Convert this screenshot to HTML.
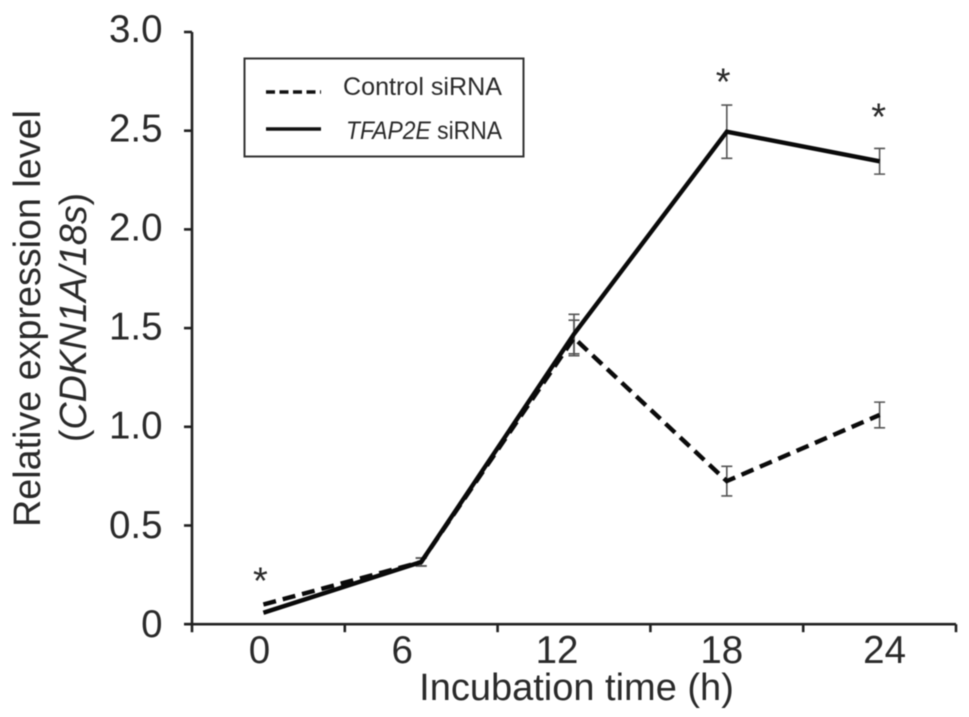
<!DOCTYPE html>
<html>
<head>
<meta charset="utf-8">
<title>CDKN1A expression chart</title>
<style>
html,body{margin:0;padding:0;background:#fff;width:969px;height:717px;overflow:hidden}
svg{display:block;filter:blur(0.6px)}
text{font-family:"Liberation Sans",sans-serif;fill:#2a2a2a}
</style>
</head>
<body>
<svg id="chart" width="969" height="717" viewBox="0 0 969 717" xmlns="http://www.w3.org/2000/svg">
  <rect width="969" height="717" fill="#fff"/>
  <g id="axes"></g>
  <g id="errors"></g>
  <g id="series"></g>
  <g id="stars"></g>
  <text x="576.500" y="700" font-size="38" text-anchor="middle">Incubation time (h)</text>
  <g>
    <text transform="translate(40,318.500) rotate(-90)" font-size="37.700" text-anchor="middle">Relative expression level</text>
    <text transform="translate(86,317.500) rotate(-90)" font-size="37.700" text-anchor="middle">(<tspan font-style="italic">CDKN1A/18s</tspan>)</text>
  </g>
  <g>
    <rect x="244.500" y="58.500" width="279" height="98" fill="#fff" stroke="#333" stroke-width="2"/>
    <line x1="266" x2="321" y1="92" y2="92" stroke="#111" stroke-width="3.500" stroke-dasharray="9 4.500"/>
    <text x="343" y="95" font-size="25" textLength="159" lengthAdjust="spacingAndGlyphs">Control siRNA</text>
    <line x1="266" x2="321" y1="129" y2="129" stroke="#111" stroke-width="3.500"/>
    <text x="346" y="139" font-size="25" textLength="156" lengthAdjust="spacingAndGlyphs"><tspan font-style="italic">TFAP2E</tspan> siRNA</text>
  </g>
</svg>
<script>
var categories = ['0', '6', '12', '18', '24'];
var controlValues = [0.10, 0.315, 1.45, 0.725, 1.06];
var controlErrors = [0, 0.02, 0.09, 0.075, 0.065];
var tfap2eValues = [0.058, 0.315, 1.47, 2.495, 2.345];
var tfap2eErrors = [0, 0.02, 0.10, 0.135, 0.065];
var yTickLabels = ['0', '0.5', '1.0', '1.5', '2.0', '2.5', '3.0'];
var yTickValues = [0, 0.5, 1, 1.5, 2, 2.5, 3];
var starCategories = ['0', '18', '24'];
var starValues = [0.239, 2.767, 2.59];

var NS = 'http://www.w3.org/2000/svg';
var plotLeft = 192, bandWidth = 152.8, plotBottom = 624.2, unitHeight = 197.4;
function xBand(i) { return plotLeft + bandWidth * i; }
function xScale(i) { return xBand(i) + bandWidth / 2; }
function yScale(v) { return plotBottom - v * unitHeight; }
function labelBaseline(v) { return 637 - v * 198.3; }
function make(tag, attrs, parent, text) {
  var el = document.createElementNS(NS, tag);
  for (var k in attrs) el.setAttribute(k, attrs[k]);
  if (text !== undefined) el.textContent = text;
  parent.appendChild(el);
  return el;
}
var axes = document.getElementById('axes');
var errs = document.getElementById('errors');
var series = document.getElementById('series');
var stars = document.getElementById('stars');
var axisStyle = { stroke: '#222', 'stroke-width': 2.6 };
function axisLine(x1, y1, x2, y2, name) {
  var el = make('line', { x1: x1, y1: y1, x2: x2, y2: y2, stroke: axisStyle.stroke, 'stroke-width': axisStyle['stroke-width'] }, axes);
  
  
}
axisLine(plotLeft, yScale(3), plotLeft, plotBottom + 8, 'y-axis-line');
axisLine(plotLeft - 8, plotBottom, xBand(categories.length), plotBottom, 'x-axis-line');
yTickValues.forEach(function (v, i) {
  axisLine(plotLeft - 8, yScale(v), plotLeft, yScale(v), 'y-tick');
  var t = make('text', { x: 162.5, y: labelBaseline(v), 'font-size': 38.5, 'text-anchor': 'end' }, axes, yTickLabels[i]);
  
  
});
var labelNudge = [-9, -19, -17, -5, 5];
categories.forEach(function (c, i) {
  axisLine(xBand(i + 1), plotBottom, xBand(i + 1), plotBottom + 8, 'x-tick');
  var t = make('text', { x: xScale(i) + labelNudge[i], y: 663, 'font-size': 38.5, 'text-anchor': 'middle' }, axes, c);
  
  
});
function drawErrors(values, errors, name) {
  values.forEach(function (v, i) {
    if (!errors[i]) return;
    var x = xScale(i), top = yScale(v + errors[i]), bot = yScale(v - errors[i]);
    var g = make('path', {
      d: 'M' + (x - 5.5) + ' ' + top + 'H' + (x + 5.5) + 'M' + x + ' ' + top + 'V' + bot + 'M' + (x - 5.5) + ' ' + bot + 'H' + (x + 5.5),
      stroke: '#555', 'stroke-width': 1.6, fill: 'none'
    }, errs);
    
    
  });
}
drawErrors(controlValues, controlErrors, 'control-error-bar');
drawErrors(tfap2eValues, tfap2eErrors, 'tfap2e-error-bar');
function pathFor(values) {
  return values.map(function (v, i) {
    var x = i === 0 ? xScale(0) - 5 : xScale(i);
    return (i ? 'L' : 'M') + x + ' ' + yScale(v);
  }).join('');
}
var controlLine = make('path', { d: pathFor(controlValues), fill: 'none', stroke: '#0a0a0a', 'stroke-width': 4.4, 'stroke-dasharray': '13 7' }, series);


var tfapLine = make('path', { d: pathFor(tfap2eValues), fill: 'none', stroke: '#0a0a0a', 'stroke-width': 4.4, 'stroke-linejoin': 'miter' }, series);


var starNudge = [-8, -3.6, -1];
starCategories.forEach(function (c, i) {
  var idx = categories.indexOf(c);
  var s = make('text', { x: xScale(idx) + starNudge[i], y: yScale(starValues[i]) + 16.5, 'font-size': 38, 'text-anchor': 'middle' }, stars, '*');
  
  
});
</script>
</body>
</html>
